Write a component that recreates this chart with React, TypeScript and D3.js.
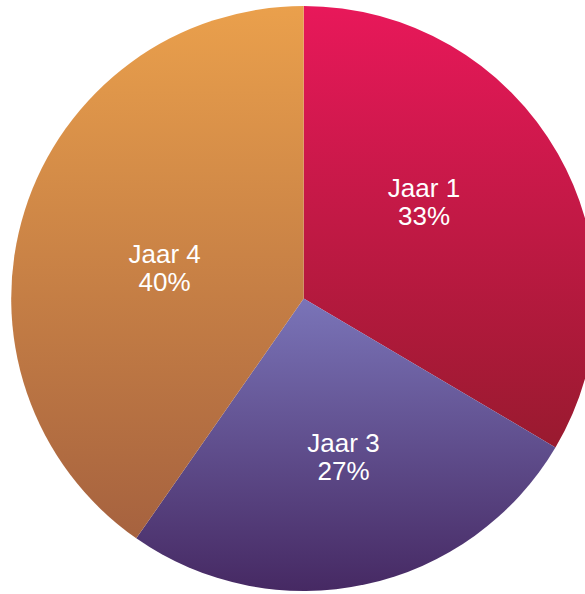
import React from "react";
import * as d3 from "d3";

const categories = ["Jaar 1", "Jaar 3", "Jaar 4"];
const values = [33.5, 26.2, 40.3];
const percentLabels = ["33%", "27%", "40%"];
const topColors = ["#E8185A", "#7A74B8", "#EAA04C"];
const bottomColors = ["#991A2F", "#462963", "#A6623F"];

// layout-only nudges for the label blocks (px), relative to the arc centroid
const labelNudgeX = [-10, 8, 4];
const labelNudgeY = [-27, 7, 9];

const W = 585;
const H = 594;
const cx = 303.7;
const cy = 298.5;
const R = 292.5;

export default function App() {
  const pie = d3.pie<number>().sort(null).value((d) => d);
  const arcs = pie(values);
  const arcGen = d3.arc<d3.PieArcDatum<number>>().innerRadius(0).outerRadius(R);
  const labelArc = d3.arc<d3.PieArcDatum<number>>().innerRadius(150).outerRadius(150);

  return (
    <svg
      width={W}
      height={H}
      style={{ position: "absolute", left: 0, top: 0 }}
      fontFamily="'Liberation Sans', Arial, sans-serif"
    >
      <defs>
        {categories.map((c, i) => (
          <linearGradient key={c} id={`g${i}`} x1="0" y1="0" x2="0" y2="1">
            <stop offset="0" stopColor={topColors[i]} />
            <stop offset="1" stopColor={bottomColors[i]} />
          </linearGradient>
        ))}
      </defs>
      <g transform={`translate(${cx},${cy})`}>
        {arcs.map((a, i) => (
          <path key={categories[i]} d={arcGen(a) || ""} fill={`url(#g${i})`} />
        ))}
        {arcs.map((a, i) => {
          const [x0, y0] = labelArc.centroid(a);
          const x = x0 + labelNudgeX[i];
          const y = y0 + labelNudgeY[i];
          return (
            <text
              key={"t" + categories[i]}
              x={x}
              y={y}
              textAnchor="middle"
              fill="#ffffff"
              fontSize={26}
            >
              <tspan x={x} y={y}>{categories[i]}</tspan>
              <tspan x={x} y={y + 28}>{percentLabels[i]}</tspan>
            </text>
          );
        })}
      </g>
    </svg>
  );
}
